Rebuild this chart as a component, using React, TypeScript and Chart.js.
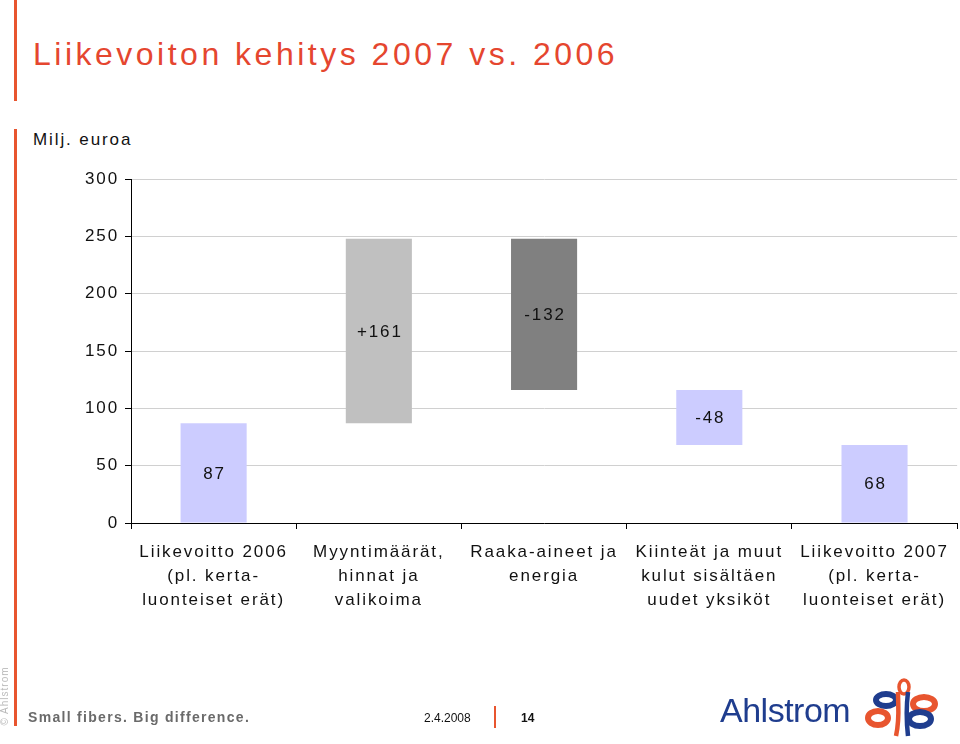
import React, { useEffect, useRef } from "react";
import { Chart, registerables } from "chart.js";

Chart.register(...registerables);

const categories: string[][] = [
  ["Liikevoitto 2006", "(pl. kerta-", "luonteiset erät)"],
  ["Myyntimäärät,", "hinnat ja", "valikoima"],
  ["Raaka-aineet ja", "energia"],
  ["Kiinteät ja muut", "kulut sisältäen", "uudet yksiköt"],
  ["Liikevoitto 2007", "(pl. kerta-", "luonteiset erät)"],
];
const changes: number[] = [87, 161, -132, -48, 68];
const isTotal: boolean[] = [true, false, false, false, true];
const valueLabels: string[] = ["87", "+161", "-132", "-48", "68"];
const barColors: string[] = ["#CCCCFF", "#C0C0C0", "#808080", "#CCCCFF", "#CCCCFF"];
const yTicks: number[] = [0, 50, 100, 150, 200, 250, 300];

const FONT = '"Liberation Sans", Arial, sans-serif';
const SPACING = "1.9px";

function buildRanges(): [number, number][] {
  const out: [number, number][] = [];
  let running = 0;
  changes.forEach((c, i) => {
    if (isTotal[i]) {
      out.push([0, c]);
      running = c;
    } else {
      const next = running + c;
      out.push([Math.min(running, next), Math.max(running, next)]);
      running = next;
    }
  });
  return out;
}

const spacingPlugin = {
  id: "spacing",
  beforeLayout(chart: any) {
    chart.ctx.letterSpacing = SPACING;
  },
  beforeDraw(chart: any) {
    chart.ctx.letterSpacing = SPACING;
  },
};

const valueLabelPlugin = {
  id: "valueLabels",
  afterDatasetsDraw(chart: any) {
    const ctx = chart.ctx;
    const meta = chart.getDatasetMeta(0);
    ctx.save();
    ctx.letterSpacing = SPACING;
    ctx.font = `17px ${FONT}`;
    ctx.fillStyle = "#111";
    ctx.textAlign = "center";
    ctx.textBaseline = "middle";
    meta.data.forEach((bar: any, i: number) => {
      const cy = (bar.y + bar.base) / 2;
      ctx.fillText(valueLabels[i], bar.x + 1, cy + 1);
    });
    ctx.restore();
  },
};

function WaterfallChart() {
  const ref = useRef<HTMLCanvasElement | null>(null);
  useEffect(() => {
    if (!ref.current) return;
    const chart = new Chart(ref.current, {
      type: "bar",
      data: {
        labels: categories,
        datasets: [
          {
            data: buildRanges() as any,
            backgroundColor: barColors,
            borderWidth: 0,
            barPercentage: 0.4,
            categoryPercentage: 1,
          },
        ],
      },
      options: {
        animation: false,
        responsive: false,
        maintainAspectRatio: false,
        layout: { padding: { left: 0, top: 179, right: 2, bottom: 0 } },
        plugins: { legend: { display: false }, tooltip: { enabled: false } },
        scales: {
          x: {
            grid: {
              offset: true,
              drawOnChartArea: true,
              color: (c: any) => (c.index === categories.length ? "#D0D0D0" : "rgba(0,0,0,0)"),
              tickColor: "#000",
              tickLength: 6,
            },
            border: { color: "#000", width: 1 },
            ticks: {
              color: "#111",
              font: { family: FONT, size: 17, lineHeight: 1.41 },
              padding: 11,
              maxRotation: 0,
              autoSkip: false,
            },
            afterFit(scale: any) {
              scale.height = 221;
            },
          },
          y: {
            min: 0,
            max: 300,
            afterBuildTicks(scale: any) {
              scale.ticks = yTicks.map((v) => ({ value: v }));
            },
            grid: { color: "#D0D0D0", tickColor: "#000", tickLength: 6 },
            border: { color: "#000", width: 1 },
            ticks: {
              color: "#111",
              font: { family: FONT, size: 17 },
              padding: 6,
            },
            afterFit(scale: any) {
              scale.width = 131;
            },
          },
        },
      },
      plugins: [spacingPlugin, valueLabelPlugin],
    });
    return () => chart.destroy();
  }, []);
  return (
    <canvas
      ref={ref}
      width={960}
      height={744}
      style={{ position: "absolute", left: 0, top: 0, width: 960, height: 744 }}
    />
  );
}

function Logo() {
  return (
    <svg width="80" height="62" viewBox="0 0 80 62" style={{ position: "absolute", left: 862, top: 678 }}>
      <ellipse cx="42" cy="9" rx="5" ry="7" fill="none" stroke="#E8552F" strokeWidth="3.5" />
      <ellipse cx="24" cy="22" rx="10" ry="6" fill="none" stroke="#1F3D8E" strokeWidth="6" />
      <ellipse cx="62" cy="26" rx="11" ry="7" fill="none" stroke="#E8552F" strokeWidth="6" />
      <ellipse cx="16" cy="40" rx="10" ry="7" fill="none" stroke="#E8552F" strokeWidth="6" />
      <ellipse cx="58" cy="41" rx="11" ry="7" fill="none" stroke="#1F3D8E" strokeWidth="6" />
      <path d="M36 14 C36 30 38 40 34 58" fill="none" stroke="#E8552F" strokeWidth="4.5" />
      <path d="M46 14 C44 30 44 40 46 58" fill="none" stroke="#1F3D8E" strokeWidth="4.5" />
    </svg>
  );
}

export default function App() {
  return (
    <div
      style={{
        position: "fixed",
        left: 0,
        top: 0,
        width: 960,
        height: 744,
        background: "#fff",
        overflow: "hidden",
        fontFamily: FONT,
      }}
    >
      <div style={{ position: "absolute", left: 14, top: 0, width: 3, height: 101, background: "#E8552F" }} />
      <div style={{ position: "absolute", left: 14, top: 129, width: 3, height: 597, background: "#E8552F" }} />
      <div
        style={{
          position: "absolute",
          left: 33,
          top: 34,
          fontSize: 32,
          letterSpacing: "3.5px",
          color: "#E5462F",
          whiteSpace: "nowrap",
          lineHeight: "40px",
        }}
      >
        Liikevoiton kehitys 2007 vs. 2006
      </div>
      <div
        style={{
          position: "absolute",
          left: 33,
          top: 129,
          fontSize: 17,
          letterSpacing: "1.9px",
          color: "#111",
          whiteSpace: "nowrap",
          lineHeight: "22px",
        }}
      >
        Milj. euroa
      </div>
      <WaterfallChart />
      <div
        style={{
          position: "absolute",
          left: -30,
          top: 690,
          width: 70,
          fontSize: 10,
          color: "#bbb",
          letterSpacing: "1px",
          transform: "rotate(-90deg)",
          whiteSpace: "nowrap",
          lineHeight: "12px",
          textAlign: "center",
        }}
      >
        © Ahlstrom
      </div>
      <div
        style={{
          position: "absolute",
          left: 28,
          top: 707,
          fontSize: 14,
          fontWeight: "bold",
          color: "#6a6a6a",
          letterSpacing: "1.3px",
          whiteSpace: "nowrap",
          lineHeight: "20px",
        }}
      >
        Small fibers. Big difference.
      </div>
      <div
        style={{
          position: "absolute",
          left: 424,
          top: 710,
          fontSize: 12,
          color: "#111",
          whiteSpace: "nowrap",
          lineHeight: "16px",
        }}
      >
        2.4.2008
      </div>
      <div style={{ position: "absolute", left: 494, top: 706, width: 2, height: 22, background: "#E8552F" }} />
      <div
        style={{
          position: "absolute",
          left: 521,
          top: 710,
          fontSize: 12,
          fontWeight: "bold",
          color: "#111",
          whiteSpace: "nowrap",
          lineHeight: "16px",
        }}
      >
        14
      </div>
      <div
        style={{
          position: "absolute",
          left: 720,
          top: 690,
          fontSize: 34,
          color: "#1F3D8E",
          whiteSpace: "nowrap",
          lineHeight: "40px",
          letterSpacing: "-0.5px",
        }}
      >
        Ahlstrom
      </div>
      <Logo />
    </div>
  );
}
